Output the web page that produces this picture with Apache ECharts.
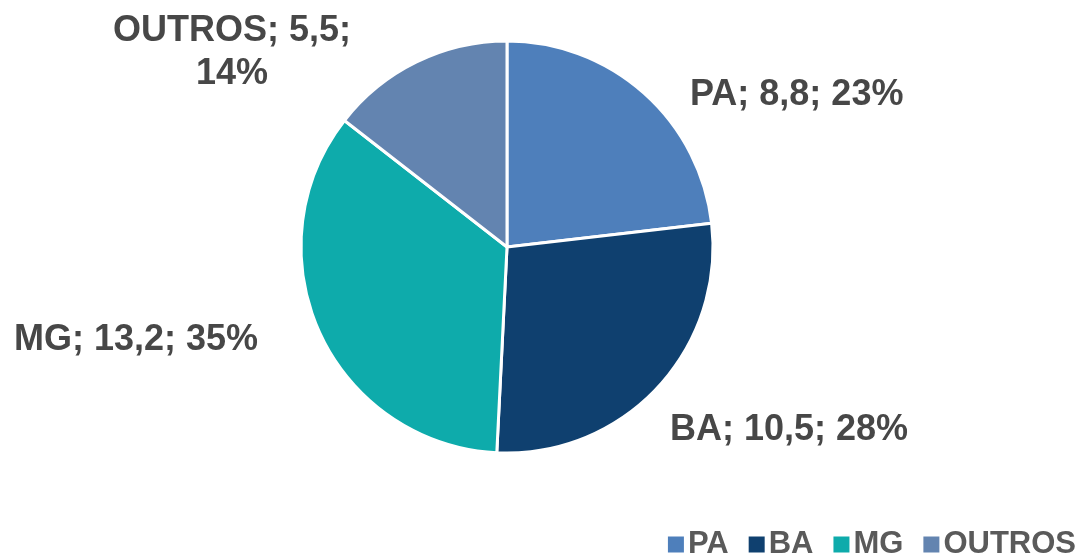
<!DOCTYPE html>
<html>
<head>
<meta charset="utf-8">
<script src="https://cdn.jsdelivr.net/npm/echarts@6/dist/echarts.min.js"></script>
<style>
html,body{margin:0;padding:0;background:#fff;}
#chart{width:1082px;height:558px;}
</style>
</head>
<body>
<div id="chart"></div>
<script>
const categories = ['PA', 'BA', 'MG', 'OUTROS'];
const values = [8.8, 10.5, 13.2, 5.5];
const colors = ['#4e7fbb', '#0f406f', '#0eabab', '#6384b0'];
// label anchor positions (x, y, align) for each slice's text
const labelSpots = [
  { x: 690, y: 95, align: 'left' },
  { x: 670, y: 430, align: 'left' },
  { x: 14, y: 340, align: 'left' },
  { x: 232, y: 53, align: 'center' }
];

const fmt = v => v.toFixed(1).replace('.', ',');
const chart = echarts.init(document.getElementById('chart'));
chart.setOption({
  animation: false,
  color: colors,
  legend: {
    data: categories,
    right: 1,
    top: 524,
    icon: 'rect',
    itemWidth: 18,
    itemHeight: 18,
    itemGap: 18,
    textStyle: { fontFamily: 'Liberation Sans, Arial', fontSize: 31, fontWeight: 'bold', color: '#5a5a5a', padding: [0, 0, 0, -2] }
  },
  series: [{
    type: 'pie',
    center: [507, 247],
    radius: 206,
    startAngle: 90,
    clockwise: true,
    itemStyle: { borderColor: '#ffffff', borderWidth: 3 },
    labelLine: { show: false },
    label: {
      show: true,
      position: 'outside',
      fontFamily: 'Liberation Sans, Arial',
      fontSize: 36,
      fontWeight: 'bold',
      lineHeight: 43,
      color: '#474747',
      formatter: p => {
        const sep = p.name.length > 3 ? '\n' : ' ';
        return p.name + '; ' + fmt(p.value) + ';' + sep + Math.round(p.percent) + '%';
      }
    },
    labelLayout: params => {
      const s = labelSpots[params.dataIndex];
      return { x: s.x, y: s.y, align: s.align, verticalAlign: 'middle' };
    },
    data: categories.map((c, i) => ({ name: c, value: values[i] }))
  }]
});
</script>
</body>
</html>
